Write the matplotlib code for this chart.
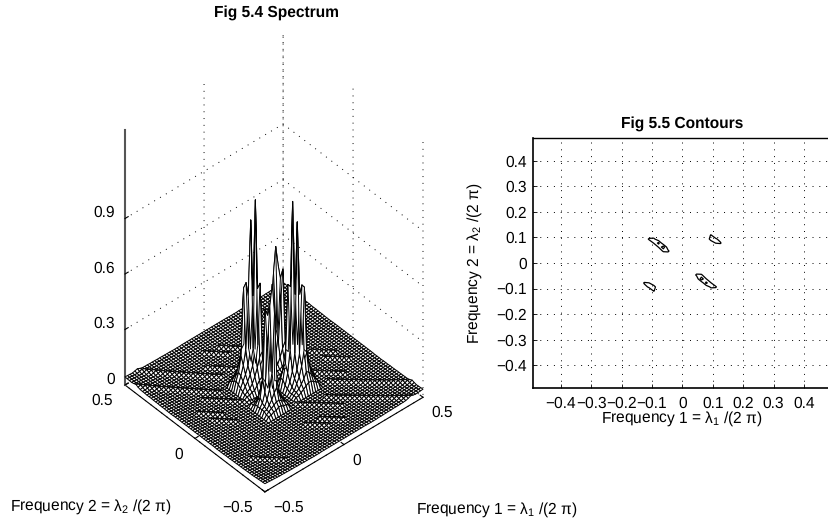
import numpy as np
import matplotlib
matplotlib.use("Agg")
import matplotlib.pyplot as plt
from mpl_toolkits.mplot3d import proj3d

plt.rcParams.update({
    "font.family": ["Liberation Sans", "DejaVu Sans"],
    "mathtext.fontset": "custom",
    "mathtext.rm": "Liberation Sans",
    "mathtext.it": "Liberation Sans",
    "mathtext.default": "regular",
    "text.hinting": "none",
    "grid.color": "black",
    "grid.linewidth": 0.7,
    "grid.linestyle": (0, (1, 6)),
})

# ---------- values ----------
title_left = "Fig 5.4 Spectrum"
title_right = "Fig 5.5 Contours"
label_f1 = r"Frequency 1 = $\lambda_1$ /(2 $\pi$)"
label_f2 = r"Frequency 2 = $\lambda_2$ /(2 $\pi$)"

# floor height by |grid index| (0..32), one list for each frequency
floor_f1 = [0.012, 0.012, 0.012, 0.012, 0.012, 0.012, 0.012, 0.012, 0.012, 0.012, 0.011,
            0.011, 0.011, 0.011, 0.012, 0.012, 0.012, 0.013, 0.013, 0.013, 0.014, 0.014,
            0.014, 0.015, 0.015, 0.016, 0.016, 0.017, 0.018, 0.019, 0.020, 0.021, 0.022]
floor_f2 = [0.012, 0.012, 0.012, 0.012, 0.012, 0.012, 0.012, 0.012, 0.012, 0.012, 0.011,
            0.011, 0.011, 0.011, 0.012, 0.012, 0.012, 0.013, 0.013, 0.013, 0.014, 0.014,
            0.014, 0.015, 0.015, 0.016, 0.016, 0.017, 0.018, 0.019, 0.020, 0.021, 0.022]
# short low ridges on the floor: |index sum| of each, its height,
# and the |index difference| span it covers
ridge_sum = [4, 5, 6, 10, 11, 19, 20, 23, 24, 46, 47]
ridge_height = [.004, .009, .004, .008, .004, .009, .004, .008, .004, .004, .008]
ridge_from = [22, 22, 22, 10, 10, 20, 20, 14, 14, 0, 0]
ridge_to = [60, 60, 60, 30, 30, 32, 32, 25, 25, 8, 8]

# peak cluster A, at f1 index -10..-1 and f2 index 9..1 (mirrored through the origin)
cluster_a_f1 = [-10, -9, -8, -7, -6, -5, -4, -3, -2, -1]
cluster_a_f2 = [9, 8, 7, 6, 5, 4, 3, 2, 1]
cluster_a = [
    [.05, .06, .07, .08, .08, .07, .06, .05, .04, .04],
    [.06, .08, .10, .12, .13, .10, .08, .06, .05, .04],
    [.07, .10, .15, .22, .24, .16, .11, .08, .05, .04],
    [.08, .12, .20, .56, .58, .22, .14, .10, .06, .04],
    [.07, .11, .16, .24, .52, .92, .22, .13, .08, .05],
    [.06, .09, .12, .16, .24, .52, 1.03, .24, .12, .06],
    [.05, .07, .09, .12, .16, .24, .56, .58, .16, .08],
    [.04, .05, .06, .08, .11, .15, .20, .22, .13, .08],
    [.04, .04, .05, .05, .07, .09, .10, .11, .08, .06],
]
# peak cluster C, at f1 index 3..11 and f2 index 10..2 (mirrored through the origin)
cluster_c_f1 = [3, 4, 5, 6, 7, 8, 9, 10, 11]
cluster_c_f2 = [10, 9, 8, 7, 6, 5, 4, 3, 2]
cluster_c = [
    [.04, .05, .05, .06, .06, .05, .05, .04, .04],
    [.05, .06, .07, .08, .08, .07, .06, .05, .04],
    [.05, .07, .10, .14, .12, .09, .07, .05, .05],
    [.06, .09, .16, .53, .22, .14, .09, .06, .05],
    [.06, .09, .15, .68, .57, .36, .12, .07, .05],
    [.05, .07, .10, .20, .51, .55, .18, .09, .05],
    [.05, .06, .07, .10, .14, .17, .12, .07, .05],
    [.04, .05, .05, .06, .07, .08, .07, .05, .04],
    [.04, .04, .04, .05, .05, .05, .05, .04, .04],
]

ticks_3d = [-0.5, 0, 0.5]
tick_labels_3d = ["\u22120.5", "0", "0.5"]
ticks_z = [0, 0.3, 0.6, 0.9]
tick_labels_z = ["0", "0.3", "0.6", "0.9"]
ticks_2d = [-0.4, -0.3, -0.2, -0.1, 0, 0.1, 0.2, 0.3, 0.4]
tick_labels_2d = ["\u22120.4", "\u22120.3", "\u22120.2", "\u22120.1", "0", "0.1", "0.2", "0.3", "0.4"]
contour_levels = [0.5, 0.82]

# ---------- assemble the height table ----------
idx = np.arange(-32, 33)
f1 = idx / 64
f2 = idx / 64
F1, F2 = np.meshgrid(f1, f2)
Z = np.array(floor_f2)[np.abs(idx)][:, None] + np.array(floor_f1)[np.abs(idx)][None, :]
KX, KY = np.meshgrid(idx, idx)
for k, h, lo, hi in zip(ridge_sum, ridge_height, ridge_from, ridge_to):
    span = np.abs(KX - KY)
    Z[(np.abs(KX + KY) == k) & (span >= lo) & (span <= hi)] += h
for kxs, kys, tab in [(cluster_a_f1, cluster_a_f2, cluster_a), (cluster_c_f1, cluster_c_f2, cluster_c)]:
    for r, ky in enumerate(kys):
        for c, kx in enumerate(kxs):
            Z[ky + 32, kx + 32] = tab[r][c]
            Z[-ky + 32, -kx + 32] = tab[r][c]

W, H = 829, 525
fig = plt.figure(figsize=(W / 100, H / 100), dpi=100)
fs = 11.2

# ---------- left: surface ----------
ax = fig.add_axes([0.05, 0.05, 0.5, 0.5 * W / H], projection="3d", proj_type="ortho")
ax.set_box_aspect((1, 1, 1.64))
ax.view_init(elev=42.5, azim=-131.5)
ax.set_xlim(-0.5, 0.5)
ax.set_ylim(-0.5, 0.5)
ax.set_zlim(0, 1.38)
ax.patch.set_alpha(0)
ax.plot_surface(F1, F2, Z, rcount=65, ccount=65, color="white", edgecolor="black",
                linewidth=0.7, shade=False, antialiased=True)
ax.set_xticks(ticks_3d, [""] * 3)
ax.set_yticks(ticks_3d, [""] * 3)
ax.set_zticks(ticks_z, [""] * 4)
ax.zaxis.set_ticks_position("upper")
for a in (ax.xaxis, ax.yaxis, ax.zaxis):
    a.pane.set_facecolor((1, 1, 1, 0))
    a.pane.set_edgecolor((1, 1, 1, 0))
    a._axinfo["tick"]["inward_factor"] = 0.0
    a._axinfo["tick"]["outward_factor"] = 0.25
    a.line.set_linewidth(0.8)
    a.line.set_color("black")
ax.zaxis.line.set_linewidth(1.5)
ax.zaxis.line.set_color("#555555")
for t, lab in zip(ticks_3d, tick_labels_3d):
    ax.text(-0.576, t, -0.048, lab, fontsize=fs, ha="right", va="center")
    ax.text(t, -0.557, -0.053, lab, fontsize=fs, ha="left", va="center")
for t, lab in zip(ticks_z, tick_labels_z):
    ax.text(-0.51, 0.56, t, lab, fontsize=fs, ha="right", va="center")

def corner_px(x, y, z=0):
    xs, ys, _ = proj3d.proj_transform(x, y, z, ax.get_proj())
    return ax.transData.transform((xs, ys))

# place the axes so the floor corners land where they are in the reference
fig.canvas.draw()
p0 = ax.get_position()
left, right = corner_px(-0.5, 0.5), corner_px(0.5, -0.5)
s = 298 / (right[0] - left[0])
ax.set_position([p0.x0, p0.y0, p0.width * s, p0.height * s])
fig.canvas.draw()
left = corner_px(-0.5, 0.5)
p1 = ax.get_position()
ax.set_position([p1.x0 + (125 - left[0]) / W, p1.y0 + ((H - 385) - left[1]) / H, p1.width, p1.height])
fig.canvas.draw()
tx, ty = ax.transAxes.inverted().transform((276, H - 13))
ax.set_title(title_left, x=tx, y=ty / 0.92, fontsize=fs, fontweight="bold", va="center", pad=0)
fig.text(10 / W, 1 - 507 / H, label_f2, fontsize=fs, va="center", ha="left")
fig.text(416 / W, 1 - 510 / H, label_f1, fontsize=fs, va="center", ha="left")

# ---------- right: contours ----------
x0, x1 = 532.7, 832.0
y0, y1 = 137.7, 388.3
ax2 = fig.add_axes([x0 / W, 1 - y1 / H, (x1 - x0) / W, (y1 - y0) / H])
ax2.contour(F1, F2, Z, levels=contour_levels, colors="black", linewidths=0.9)
ax2.set_xlim(-0.492, 0.492)
ax2.set_ylim(-0.491, 0.491)
ax2.set_xticks(ticks_2d, tick_labels_2d, fontsize=fs)
ax2.set_yticks(ticks_2d, tick_labels_2d, fontsize=fs)
ax2.tick_params(direction="in", length=3, width=0.6)
ax2.tick_params(axis="x", pad=5.5)
ax2.tick_params(axis="y", pad=4)
ax2.grid(True)
ax2.spines["left"].set_linewidth(1.2)
ax2.spines["bottom"].set_linewidth(1.2)
ax2.spines["top"].set_linewidth(1.0)
ax2.spines["right"].set_visible(False)
ax2.set_title(title_right, fontsize=fs, fontweight="bold", pad=7)
ax2.set_xlabel(label_f1, fontsize=fs)
ax2.set_ylabel(label_f2, fontsize=fs)
ax2.xaxis.set_label_coords(0.499, -0.083)
ax2.yaxis.set_label_coords(-0.163, 0.5)

fig.savefig("out.png", dpi=100)
